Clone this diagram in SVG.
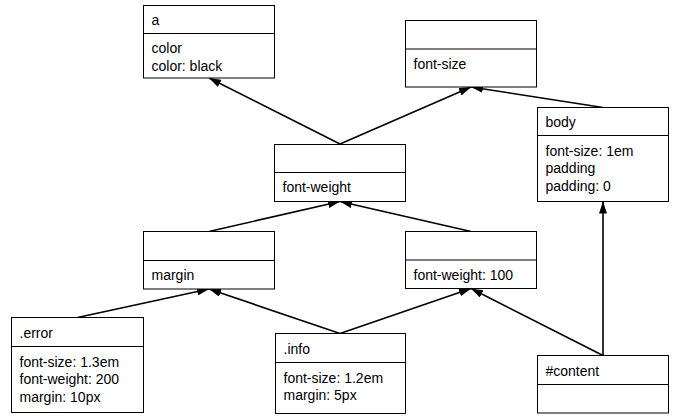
<svg xmlns="http://www.w3.org/2000/svg" width="678" height="418" viewBox="0 0 678 418">
<style>
.box{fill:#fff;stroke:#000;stroke-width:1}
.t{font-family:"Liberation Sans",Arial,sans-serif;font-size:14px;fill:#000}
.e{fill:none;stroke:#000;stroke-width:1.6}
</style>
<defs>
<marker id="arr" viewBox="0 0 12 8" refX="12" refY="4" markerWidth="12" markerHeight="8" markerUnits="userSpaceOnUse" orient="auto">
<path d="M0,0 L12,4 L0,8 Z" fill="#000"/>
</marker>
</defs>
<rect width="678" height="418" fill="#fff"/>
<g id="connectors">
<path class="e" d="M340,144 L209,78" marker-end="url(#arr)"/>
<path class="e" d="M340,144 L471,87" marker-end="url(#arr)"/>
<path class="e" d="M603,107.5 L471,87" marker-end="url(#arr)"/>
<path class="e" d="M209,231.5 L340,201.5" marker-end="url(#arr)"/>
<path class="e" d="M471,231.5 L340,201.5" marker-end="url(#arr)"/>
<path class="e" d="M77.5,317.5 L209,289" marker-end="url(#arr)"/>
<path class="e" d="M340,333.5 L209,289" marker-end="url(#arr)"/>
<path class="e" d="M340,333.5 L471,288.5" marker-end="url(#arr)"/>
<path class="e" d="M603,355.5 L471,288.5" marker-end="url(#arr)"/>
<path class="e" d="M603,355.5 L603,201.5" marker-end="url(#arr)"/>
</g>
<g id="node-a">
<rect class="box" x="143.5" y="5.5" width="131" height="72.5"/>
<line class="box" x1="143.5" y1="33.5" x2="274.5" y2="33.5"/>
<text class="t" x="151.5" y="25">a</text>
<text class="t" x="151.5" y="53">color</text>
<text class="t" x="151.5" y="70.5">color: black</text>
</g>
<g id="node-fontsize">
<rect class="box" x="405.5" y="20.5" width="131" height="66.5"/>
<line class="box" x1="405.5" y1="49" x2="536.5" y2="49"/>
<text class="t" x="413.5" y="69">font-size</text>
</g>
<g id="node-fontweight">
<rect class="box" x="274.5" y="144.5" width="131" height="57"/>
<line class="box" x1="274.5" y1="172.5" x2="405.5" y2="172.5"/>
<text class="t" x="282.5" y="192">font-weight</text>
</g>
<g id="node-body">
<rect class="box" x="537.5" y="107.5" width="131" height="94"/>
<line class="box" x1="537.5" y1="135.5" x2="668.5" y2="135.5"/>
<text class="t" x="545.5" y="127">body</text>
<text class="t" x="545.5" y="155.5">font-size: 1em</text>
<text class="t" x="545.5" y="173">padding</text>
<text class="t" x="545.5" y="190.5">padding: 0</text>
</g>
<g id="node-margin">
<rect class="box" x="143.5" y="231.5" width="131" height="57.5"/>
<line class="box" x1="143.5" y1="260.5" x2="274.5" y2="260.5"/>
<text class="t" x="151.5" y="280">margin</text>
</g>
<g id="node-fw100">
<rect class="box" x="405.5" y="231.5" width="131" height="57"/>
<line class="box" x1="405.5" y1="260" x2="536.5" y2="260"/>
<text class="t" x="413.5" y="279.5">font-weight: 100</text>
</g>
<g id="node-error">
<rect class="box" x="11.5" y="317.5" width="132" height="95"/>
<line class="box" x1="11.5" y1="346.5" x2="143.5" y2="346.5"/>
<text class="t" x="19.5" y="338">.error</text>
<text class="t" x="19.5" y="366.5">font-size: 1.3em</text>
<text class="t" x="19.5" y="384">font-weight: 200</text>
<text class="t" x="19.5" y="401.5">margin: 10px</text>
</g>
<g id="node-info">
<rect class="box" x="275.5" y="333.5" width="130" height="80"/>
<line class="box" x1="275.5" y1="362.5" x2="405.5" y2="362.5"/>
<text class="t" x="283.5" y="354">.info</text>
<text class="t" x="283.5" y="382.5">font-size: 1.2em</text>
<text class="t" x="283.5" y="400">margin: 5px</text>
</g>
<g id="node-content">
<rect class="box" x="537.5" y="355.5" width="131" height="57.5"/>
<line class="box" x1="537.5" y1="384.5" x2="668.5" y2="384.5"/>
<text class="t" x="545.5" y="376">#content</text>
</g>
</svg>
